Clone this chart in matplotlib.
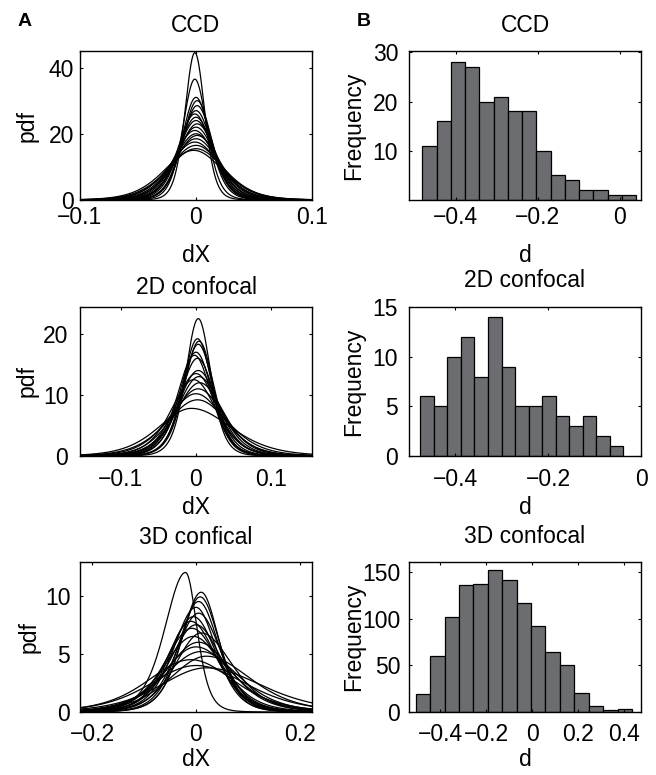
import numpy as np
import matplotlib
matplotlib.use("Agg")
import matplotlib.pyplot as plt
from math import gamma, sqrt, pi

plt.rcParams['font.family'] = ['Liberation Sans', 'DejaVu Sans']
plt.rcParams['axes.unicode_minus'] = True

# ---------------- data ----------------
# Panel A: per-curve peak height (pdf), peak position (dX), right/left width ratio
ccd_peaks = [44.5, 36.5, 31.0, 30.0, 28.5, 27.0, 26.0, 25.0, 24.0, 23.0, 22.0,
             21.0, 20.0, 19.5, 18.5, 17.5, 16.5, 15.5, 15.0]
ccd_centers = [-0.001, -0.001, 0.0, 0.001, 0.001, 0.0, -0.001, 0.0, 0.0, 0.001,
               0.0, -0.001, 0.0, 0.001, 0.0, -0.001, 0.0, 0.0, -0.002]
ccd_skew = [1.0] * 19
conf2d_peaks = [22.5, 19.2, 18.8, 18.3, 17.0, 16.5, 16.0, 14.0, 13.5, 13.0,
                12.5, 12.0, 11.0, 10.2, 9.2, 7.8]
conf2d_centers = [0.003, 0.002, 0.004, 0.003, 0.0, -0.002, 0.002, 0.003, 0.0,
                  0.004, -0.003, 0.005, 0.003, 0.0, 0.002, -0.006]
conf2d_skew = [1.0, 1.0, 1.0, 1.0, 1.0, 1.0, 1.0, 1.0, 1.0, 1.0, 1.0, 1.0,
               1.0, 1.0, 1.0, 1.2]
conf3d_peaks = [12.0, 10.3, 9.9, 9.5, 9.0, 8.5, 8.2, 7.8, 7.5, 7.2, 6.8, 6.5,
                6.0, 5.6, 5.2, 4.8, 4.5, 4.0, 3.8]
conf3d_centers = [-0.02, 0.01, 0.008, 0.005, 0.0, 0.005, -0.005, -0.01, 0.0,
                  -0.008, 0.01, -0.005, 0.005, 0.0, 0.01, 0.02, -0.01, 0.0, 0.02]
conf3d_skew = [0.55, 0.9, 1.0, 1.0, 0.9, 1.0, 1.0, 1.1, 1.0, 1.0, 1.2, 1.0,
               1.0, 1.1, 1.0, 1.2, 1.0, 1.1, 1.2]

# Panel B: histogram counts and bin ranges
ccd_counts = [11, 16, 28, 27, 20, 21, 18, 18, 10, 5, 4, 2, 2, 1, 1]
ccd_bin_range = (-0.4808, 0.0408)
conf2d_counts = [6, 5, 10, 12, 8, 14, 9, 5, 5, 6, 4, 3, 4, 2, 1]
conf2d_bin_range = (-0.4753, -0.0381)
conf3d_counts = [19, 60, 102, 136, 137, 152, 142, 117, 92, 64, 50, 20, 6, 2, 3]
conf3d_bin_range = (-0.508, 0.434)

titles_A = ["CCD", "2D confocal", "3D confical"]
titles_B = ["CCD", "2D confocal", "3D confocal"]

# ---------------- layout ----------------
W, H = 656, 775
fig = plt.figure(figsize=(W / 100, H / 100), dpi=100)

def rect(x0, x1, y0, y1):
    return [x0 / W, 1 - y1 / H, (x1 - x0) / W, (y1 - y0) / H]

rows = [(51, 200), (307, 456), (562, 712)]
colA = (80, 312)
colB = (409, 641)
FS = 16.5
BARC = '#6b6d70'

def style(ax, xpad, ypad):
    ax.tick_params(direction='in', top=True, right=True, length=2.5, width=0.8,
                   labelsize=FS, pad=xpad, axis='x')
    ax.tick_params(direction='in', top=True, right=True, length=2.5, width=0.8,
                   labelsize=FS, pad=ypad, axis='y')
    for s in ax.spines.values():
        s.set_linewidth(1.0)

def pdf_curve(x, c, peak, nu, r):
    k = gamma((nu + 1) / 2) / (sqrt(nu * pi) * gamma(nu / 2))
    s = k / peak
    sl = 2 * s / (1 + r)
    sr = 2 * s * r / (1 + r)
    sc = np.where(x < c, sl, sr)
    return peak * (1 + ((x - c) / sc) ** 2 / nu) ** (-(nu + 1) / 2)

A_specs = [
    (ccd_peaks, ccd_centers, ccd_skew, (-0.1, 0.1), (0, 45), [-0.1, 0, 0.1], ["\u22120.1", "0", "0.1"], [0, 20, 40], 8),
    (conf2d_peaks, conf2d_centers, conf2d_skew, (-0.154, 0.154), (0, 24.4), [-0.1, 0, 0.1], ["\u22120.1", "0", "0.1"], [0, 10, 20], 7),
    (conf3d_peaks, conf3d_centers, conf3d_skew, (-0.223, 0.223), (0, 12.9), [-0.2, 0, 0.2], ["\u22120.2", "0", "0.2"], [0, 5, 10], 6),
]
xpads = [4.3, 8.4, 7.8]
ypadsA = [4.3, 8.4, 7.0]
for i, (pk, ce, sk, xl, yl, xt, xtl, yt, nu) in enumerate(A_specs):
    ax = fig.add_axes(rect(colA[0], colA[1], *rows[i]))
    xs = np.linspace(xl[0], xl[1], 800)
    for p, c, r in zip(pk, ce, sk):
        ax.plot(xs, pdf_curve(xs, c, p, nu, r), color='black', lw=0.9)
    ax.set_xlim(*xl)
    ax.set_ylim(*yl)
    ax.set_xticks(xt)
    ax.set_xticklabels(xtl)
    ax.set_yticks(yt)
    style(ax, xpads[i], ypadsA[i])

B_specs = [
    (ccd_counts, ccd_bin_range, (-0.5136, 0.0524), (0, 30.3), [-0.4, -0.2, 0], ["\u22120.4", "\u22120.2", "0"], [10, 20, 30]),
    (conf2d_counts, conf2d_bin_range, (-0.4998, 0.0), (0, 15.0), [-0.4, -0.2, 0], ["\u22120.4", "\u22120.2", "0"], [0, 5, 10, 15]),
    (conf3d_counts, conf3d_bin_range, (-0.537, 0.473), (0, 161), [-0.4, -0.2, 0, 0.2, 0.4], ["\u22120.4", "\u22120.2", "0", "0.2", "0.4"], [0, 50, 100, 150]),
]
ypadsB = [7.8, 7.8, 6.3]
for i, (cnt, br, xl, yl, xt, xtl, yt) in enumerate(B_specs):
    ax = fig.add_axes(rect(colB[0], colB[1], *rows[i]))
    n = len(cnt)
    edges = np.linspace(br[0], br[1], n + 1)
    ax.bar(edges[:-1], cnt, width=np.diff(edges), align='edge',
           color=BARC, edgecolor='black', linewidth=0.9)
    ax.set_xlim(*xl)
    ax.set_ylim(*yl)
    ax.set_xticks(xt)
    ax.set_xticklabels(xtl)
    ax.set_yticks(yt)
    style(ax, xpads[i], ypadsB[i])

def ftext(x, y, s, **kw):
    fig.text(x / W, 1 - y / H, s, **kw)

# titles (baseline positions)
for (x, y, s) in [(196, 31.5, titles_A[0]), (525, 31.5, titles_B[0]),
                  (196, 294, titles_A[1]), (525, 287, titles_B[1]),
                  (196, 544, titles_A[2]), (525, 543, titles_B[2])]:
    ftext(x, y, s, ha='center', va='baseline', fontsize=FS)

# x labels (top positions)
for (x, y, s) in [(196, 244, "dX"), (525, 244, "d"),
                  (196, 496, "dX"), (525, 496, "d"),
                  (196, 748, "dX"), (525, 748, "d")]:
    ftext(x, y, s, ha='center', va='top', fontsize=FS)

# y labels
for (x, y, s) in [(27.5, 125.5, "pdf"), (27.5, 381.5, "pdf"), (29.5, 637, "pdf"),
                  (354, 125.5, "Frequency"), (354, 381.5, "Frequency"), (354, 637, "Frequency")]:
    ftext(x, y, s, ha='center', va='center', rotation=90, fontsize=FS)

# panel letters
ftext(25, 21.5, "A", ha='center', va='center', fontsize=14, fontweight='bold')
ftext(364, 21.5, "B", ha='center', va='center', fontsize=14, fontweight='bold')

fig.savefig("out.png", dpi=100)
